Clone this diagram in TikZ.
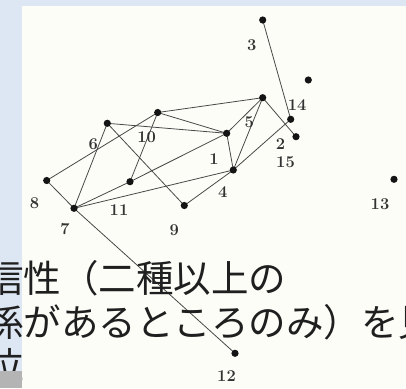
\documentclass[tikz,border=0pt]{standalone}
\usepackage{fontspec}
\newfontfamily\cjk{Noto Sans CJK JP}
\definecolor{bgblue}{HTML}{DCE7F3}
\definecolor{paper}{HTML}{FDFDF8}
\definecolor{edgecol}{HTML}{484848}
\definecolor{barcol}{HTML}{B4B4B4}
\begin{document}
\begin{tikzpicture}[x=1pt,y=-1pt,
  vtx/.style={circle,fill=black!92,inner sep=0pt,minimum size=7.2pt},
  lbl/.style={font=\fontsize{16.5}{16.5}\selectfont\bfseries,text=black!80,inner sep=0pt},
  edge/.style={draw=edgecol,line width=0.8pt},
  jp/.style={font=\cjk\fontsize{37.5}{37.5}\selectfont,text=black!88,anchor=base west,inner sep=0pt}]
\useasboundingbox (0,0) rectangle (406,388);
\fill[bgblue] (0,0) rectangle (406,388);
\fill[paper] (22,6) rectangle (406,388);
% vertices
\coordinate (c3) at (262.7,20);
\coordinate (cA) at (308.3,80);
\coordinate (c14) at (290.7,119.3);
\coordinate (c15) at (296,136.7);
\coordinate (c5) at (262.7,97.7);
\coordinate (c1) at (226.7,133.3);
\coordinate (c4) at (233.3,170);
\coordinate (c10) at (157.7,112.5);
\coordinate (c6) at (107.3,123.3);
\coordinate (c8) at (46.7,180.5);
\coordinate (c11) at (130,181.7);
\coordinate (c7) at (74,208.3);
\coordinate (c9) at (184.3,205.5);
\coordinate (c13) at (394,179.3);
\coordinate (c12) at (235,353.3);
% edges
\foreach \a/\b in {3/14,5/10,5/1,5/4,5/15,14/4,10/1,6/1,10/8,10/11,6/7,6/9,9/4,8/7,7/11,7/4,11/1,1/4,7/12}
  \draw[edge] (c\a) -- (c\b);
% dots
\foreach \n in {3,A,14,15,5,1,4,10,6,8,11,7,9,13,12}
  \node[vtx] (v\n) at (c\n) {};
% labels
\node[lbl] (l3) at (251.7,45) {3};
\node[lbl] (l14) at (297.2,105) {14};
\node[lbl] (l5) at (249.3,121.7) {5};
\node[lbl] (l1) at (214,159.3) {1};
\node[lbl] (l2) at (280.5,143.8) {2};
\node[lbl] (l15) at (285.5,161.7) {15};
\node[lbl] (l10) at (146.7,136.7) {10};
\node[lbl] (l6) at (93.3,143.8) {6};
\node[lbl] (l4) at (222.7,191.7) {4};
\node[lbl] (l8) at (34.5,203.3) {8};
\node[lbl] (l11) at (119,210) {11};
\node[lbl] (l7) at (65,229.5) {7};
\node[lbl] (l9) at (174.3,230) {9};
\node[lbl] (l13) at (380,204) {13};
\node[lbl] (l12) at (226.5,376.5) {12};
% Japanese overlay text
\node[jp] (t1) at (-14,292.5) {信性（二種以上の};
\node[jp] (t2) at (-14,336) {係があるところのみ）を見};
\node[jp] (t3) at (-14,379.5) {位};
\fill[barcol] (0,371) rectangle (22,388);
\end{tikzpicture}
\end{document}
